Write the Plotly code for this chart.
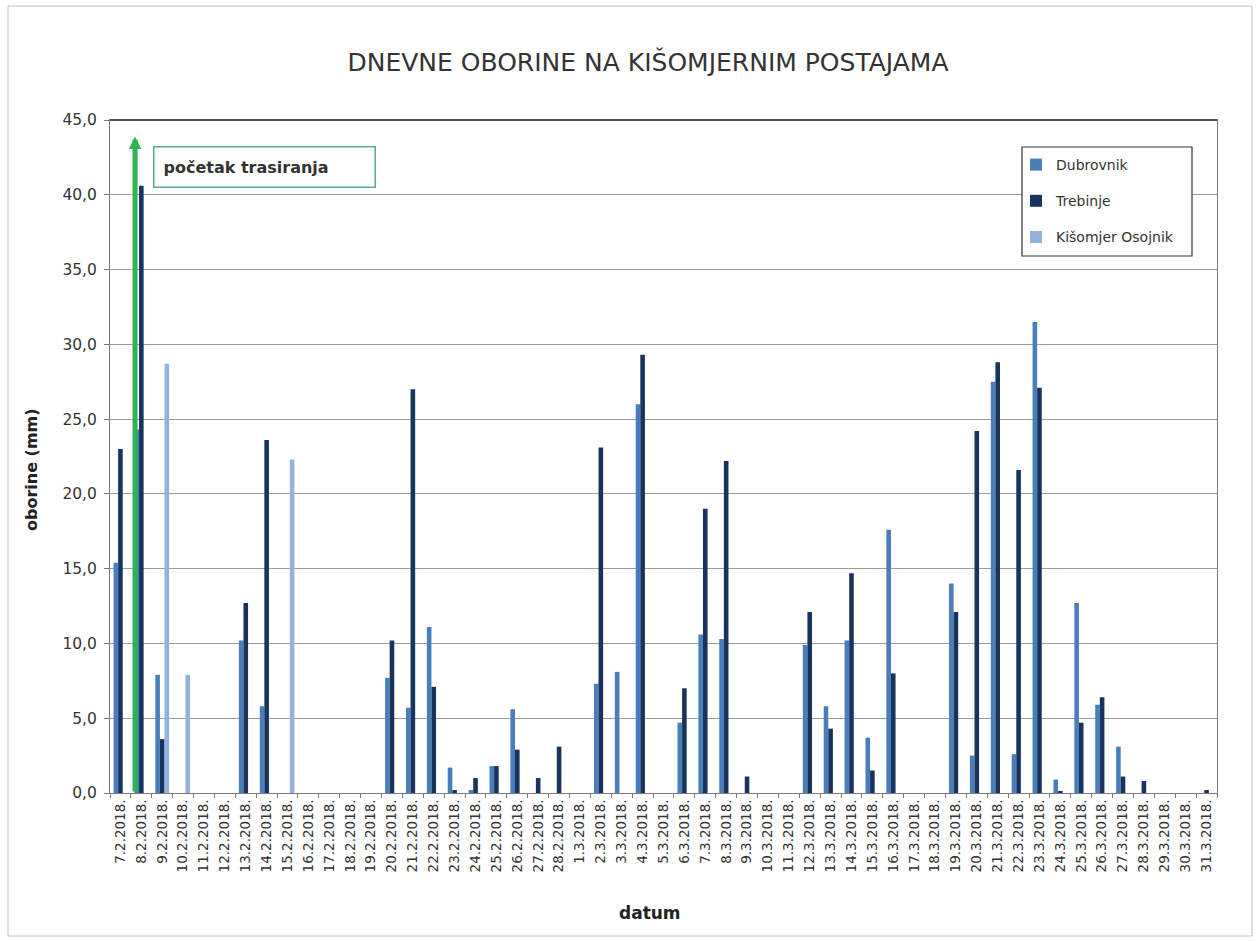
import plotly.graph_objects as go

# Daily dates, 7.2.2018. - 31.3.2018.
dates = [f"{d}.2.2018." for d in range(7, 29)] + [f"{d}.3.2018." for d in range(1, 32)]

# Daily precipitation (mm)
dubrovnik = [
    15.4, 24.3, 7.9, 0, 0, 0, 10.2, 5.8, 0, 0, 0, 0, 0, 7.7, 5.7, 11.1, 1.7, 0.2, 1.8, 5.6, 0, 0,
    0, 7.3, 8.1, 26.0, 0, 4.7, 10.6, 10.3, 0, 0, 0, 9.9, 5.8, 10.2, 3.7, 17.6, 0, 0, 14.0, 2.5,
    27.5, 2.6, 31.5, 0.9, 12.7, 5.9, 3.1, 0, 0, 0, 0,
]
trebinje = [
    23.0, 40.6, 3.6, 0, 0, 0, 12.7, 23.6, 0, 0, 0, 0, 0, 10.2, 27.0, 7.1, 0.2, 1.0, 1.8, 2.9, 1.0, 3.1,
    0, 23.1, 0, 29.3, 0, 7.0, 19.0, 22.2, 1.1, 0, 0, 12.1, 4.3, 14.7, 1.5, 8.0, 0, 0, 12.1, 24.2,
    28.8, 21.6, 27.1, 0.1, 4.7, 6.4, 1.1, 0.8, 0, 0, 0.2,
]
osojnik = [
    0, 0, 28.7, 7.9, 0, 0, 0, 0, 22.3, 0, 0, 0, 0, 0, 0, 0, 0, 0, 0, 0, 0, 0,
    0, 0, 0, 0, 0, 0, 0, 0, 0, 0, 0, 0, 0, 0, 0, 0, 0, 0, 0, 0,
    0, 0, 0, 0, 0, 0, 0, 0, 0, 0, 0,
]

series_names = ["Dubrovnik", "Trebinje", "Kišomjer Osojnik"]
series_colors = ["#4a7ebb", "#17335e", "#93b3dc"]
tracing_start = "8.2.2018."
tracing_peak = 43.9

FONT = "DejaVu Sans"
W, H = 1259, 941
L, R, T, B = 110, 42, 120, 148
PW, PH = W - L - R, H - T - B


def px_x(x):
    return (x - L) / PW


def px_y(y):
    return (H - B - y) / PH


fig = go.Figure()
for name, vals, col in zip(series_names, [dubrovnik, trebinje, osojnik], series_colors):
    fig.add_trace(go.Bar(
        x=dates, y=vals, name=name, legendgroup=name,
        marker=dict(color=col, line=dict(width=0)),
    ))

start_idx = dates.index(tracing_start) - 0.3

fig.update_layout(
    width=W, height=H,
    margin=dict(l=L, r=R, t=T, b=B),
    paper_bgcolor="white", plot_bgcolor="white",
    separators=",.",
    barmode="group", bargap=0.34, bargroupgap=0,
    font=dict(family=FONT, size=12, color="#333"),
    title=dict(
        text="DNEVNE OBORINE NA KIŠOMJERNIM POSTAJAMA",
        x=648 / W, xanchor="center", y=1 - 62 / H, yanchor="middle", yref="container",
        font=dict(family=FONT, size=25, color="#333"),
    ),
    xaxis=dict(
        type="category", tickangle=-90, tickfont=dict(size=13.5, color="#333"),
        showline=True, linecolor="#7a7a7a", linewidth=1, mirror=True,
        ticks="outside", ticklen=4, tickcolor="#7a7a7a", tickson="boundaries",
        showgrid=False,
    ),
    yaxis=dict(
        range=[0, 45], dtick=5, tickformat=".1f",
        tickfont=dict(size=15.5, color="#333"),
        showline=True, linecolor="#7a7a7a", linewidth=1, mirror=True,
        ticks="outside", ticklen=5, tickcolor="#7a7a7a", ticklabelstandoff=4,
        showgrid=True, gridcolor="#9a9a9a", gridwidth=1.2,
        zeroline=False,
    ),
    legend=dict(
        x=px_x(1016), y=px_y(149), xanchor="left", yanchor="top",
        bgcolor="rgba(0,0,0,0)", borderwidth=0,
        font=dict(family=FONT, size=14, color="#333"),
        tracegroupgap=15, itemwidth=30,
    ),
    showlegend=True,
)

# Top edge of the plot area is drawn a little darker
fig.add_shape(
    type="line", xref="paper", yref="paper", x0=0, x1=1, y0=1, y1=1,
    line=dict(color="#505050", width=2), layer="above",
)

# Legend frame
fig.add_shape(
    type="rect", xref="paper", yref="paper",
    x0=px_x(1022), x1=px_x(1192), y0=px_y(256), y1=px_y(147),
    line=dict(color="#333", width=1.2), fillcolor="white", layer="above",
)

# Green arrow marking the start of the tracing test
fig.add_annotation(
    x=start_idx, y=tracing_peak, ax=start_idx, ay=0,
    xref="x", yref="y", axref="x", ayref="y",
    text="", showarrow=True, arrowhead=2, arrowsize=0.5, arrowwidth=5,
    arrowcolor="#2eb34f", standoff=0, startstandoff=0,
)

# Label box for the tracing start
fig.add_annotation(
    x=px_x(153), y=px_y(167.5), xref="paper", yref="paper",
    xanchor="left", yanchor="middle",
    text="<b>početak trasiranja</b>", showarrow=False, align="left",
    font=dict(family=FONT, size=16, color="#333"),
    bgcolor="white", bordercolor="#55ad8c", borderwidth=1.5,
    width=202, height=21, borderpad=9,
)

# Axis titles
fig.add_annotation(
    x=px_x(32), y=px_y(470), xref="paper", yref="paper",
    xanchor="center", yanchor="middle",
    text="<b>oborine (mm)</b>", showarrow=False, textangle=-90,
    font=dict(family=FONT, size=16, color="#222"),
)
fig.add_annotation(
    x=px_x(650), y=px_y(913), xref="paper", yref="paper",
    xanchor="center", yanchor="middle",
    text="<b>datum</b>", showarrow=False,
    font=dict(family=FONT, size=17, color="#222"),
)

# Outer chart frame
fig.add_shape(
    type="rect", xref="paper", yref="paper",
    x0=px_x(8), x1=px_x(1252), y0=px_y(936), y1=px_y(6),
    line=dict(color="#c0c0c0", width=1), fillcolor="rgba(0,0,0,0)", layer="below",
)

fig.write_html("out.html")
